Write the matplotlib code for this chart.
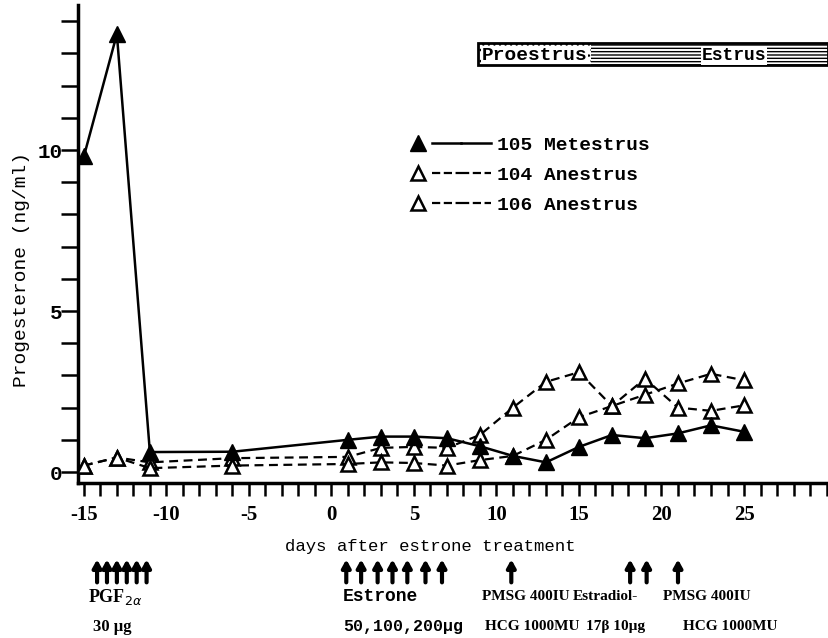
import matplotlib
matplotlib.use('Agg')
import matplotlib.pyplot as plt
from matplotlib.patches import Rectangle
from matplotlib.lines import Line2D
from matplotlib.legend_handler import HandlerTuple

# datos
days = [-15, -13, -11, -6, 1, 3, 5, 7, 9, 11, 13, 15, 17, 19, 21, 23, 25]
prog_105 = [9.8, 13.6, 0.62, 0.63, 1.0, 1.1, 1.1, 1.05, 0.8, 0.5, 0.3, 0.78, 1.15, 1.05, 1.2, 1.45, 1.25]
prog_104 = [0.2, 0.45, 0.3, 0.43, 0.47, 0.75, 0.78, 0.75, 1.15, 2.0, 2.8, 3.1, 2.05, 2.9, 2.0, 1.9, 2.07]
prog_106 = [0.2, 0.45, 0.12, 0.2, 0.25, 0.3, 0.28, 0.2, 0.37, 0.5, 1.0, 1.7, 2.05, 2.4, 2.75, 3.05, 2.85]
series_labels = ['105 Metestrus', '104 Anestrus', '106 Anestrus']

# fases del ciclo (barra superior)
phase_names = ['Proestrus', 'Estrus']
phase_start = [8.9, 15.7]
phase_end = [15.7, 30.1]
phase_hatch = ['...', '-----']

# tratamientos (flechas bajo el eje)
pgf_days = [-14.2, -13.6, -13.0, -12.4, -11.8, -11.2]
estrone_days = [0.9, 1.8, 2.8, 3.7, 4.6, 5.7, 6.7]
pmsg_days = [10.9, 21.0]
estradiol_days = [18.1, 19.1]

row1_text = ['PGF$_{2\\alpha}$', 'Estrone', 'PMSG 400IU', 'Estradiol-', 'PMSG 400IU']
row1_x = [-14.75, 0.7, 9.1, 14.6, 20.1]
row2_text = ['30 µg', '50,100,200µg', 'HCG 1000MU', '17β 10µg', 'HCG 1000MU']
row2_x = [-14.45, 0.7, 9.3, 15.4, 21.3]

mono = 'Liberation Mono'
serif = 'Liberation Serif'
plt.rcParams['axes.unicode_minus'] = False
plt.rcParams['hatch.linewidth'] = 1.0

fig = plt.figure(figsize=(8.29, 6.38), dpi=100)
ax = fig.add_axes([0.094, 0.243, 0.906, 0.749])

dash = (0, (4, 2.5))
l105, = ax.plot(days, prog_105, color='black', lw=1.8, marker='^', ms=12,
                mfc='black', mec='black', zorder=4)
l104, = ax.plot(days, prog_104, color='black', lw=1.6, ls=dash, marker='^', ms=10,
                mfc='white', mec='black', mew=1.8, zorder=3)
l106, = ax.plot(days, prog_106, color='black', lw=1.6, ls=dash, marker='^', ms=10,
                mfc='white', mec='black', mew=1.8, zorder=3)

ax.set_xlim(-15.36, 30.15)
ax.set_ylim(-0.34, 14.5)
ax.set_xticks([-15, -10, -5, 0, 5, 10, 15, 20, 25])
ax.set_xticks(range(-15, 31), minor=True)
ax.set_yticks([0, 5, 10])
ax.set_yticks(range(0, 15), minor=True)

for s in ['top', 'right']:
    ax.spines[s].set_visible(False)
for s in ['left', 'bottom']:
    ax.spines[s].set_linewidth(2.5)

ax.tick_params(axis='x', which='both', direction='out', length=9, width=1.8, pad=7)
ax.tick_params(axis='y', which='both', direction='out', length=12, width=1.8, pad=-1)
for t in ax.get_xticklabels():
    t.set_fontfamily(serif)
    t.set_fontweight('bold')
    t.set_fontsize(15)
for t in ax.get_yticklabels():
    t.set_fontfamily(mono)
    t.set_fontweight('bold')
    t.set_fontsize(15)

ax.set_ylabel('Progesterone (ng/ml)', fontfamily=mono, fontsize=14)
ax.yaxis.set_label_coords(-0.064, 0.446)
ax.set_xlabel('days after estrone treatment', fontfamily=mono, fontsize=12.5)
ax.xaxis.set_label_coords(0.469, -0.118)

# leyenda: triangulo y luego la linea
handles = []
for ln in [l105, l104, l106]:
    mk = Line2D([], [], ls='none', marker='^', ms=ln.get_markersize(),
                mfc=ln.get_markerfacecolor(), mec='black', mew=ln.get_markeredgewidth())
    seg = Line2D([], [], color='black', lw=ln.get_linewidth(), ls=ln.get_linestyle())
    handles.append((mk, seg, seg))
ax.legend(handles, series_labels, handler_map={tuple: HandlerTuple(ndivide=None, pad=0)},
          loc='upper left', bbox_to_anchor=(0.433, 0.726), frameon=False,
          prop={'family': mono, 'weight': 'bold', 'size': 14},
          handlelength=4.5, handletextpad=0.35, labelspacing=0.65,
          borderpad=0, borderaxespad=0)

# barra Proestrus / Estrus
for name, x0, x1, h in zip(phase_names, phase_start, phase_end, phase_hatch):
    ax.add_patch(Rectangle((x0, 12.64), x1 - x0, 0.68, facecolor='white',
                           edgecolor='black', hatch=h, lw=0, clip_on=False, zorder=2))
ax.add_patch(Rectangle((phase_start[0], 12.64), phase_end[-1] - phase_start[0], 0.68,
                       fill=False, edgecolor='black', lw=2, clip_on=False, zorder=3))
ax.text(phase_start[0] + 0.2, 12.94, phase_names[0], fontfamily=mono, fontweight='bold',
        fontsize=14, ha='left', va='center', zorder=5,
        bbox=dict(fc='white', ec='none', pad=0.3))
ax.text((phase_start[1] + phase_end[1]) / 2 + 1.5, 12.94, phase_names[1], fontfamily=mono,
        fontweight='bold', fontsize=13, ha='center', va='center', zorder=5,
        bbox=dict(fc='white', ec='none', pad=0.5))

# flechas de tratamiento
for d in pgf_days + estrone_days + pmsg_days + estradiol_days:
    ax.annotate('', xy=(d, -0.160), xytext=(d, -0.208),
                xycoords=('data', 'axes fraction'), textcoords=('data', 'axes fraction'),
                arrowprops=dict(arrowstyle='-|>,head_length=0.45,head_width=0.25',
                                lw=3, color='black', shrinkA=0, shrinkB=0),
                annotation_clip=False)

for txt, x in zip(row1_text, row1_x):
    fam = mono if txt == 'Estrone' else serif
    size = 13 if txt.startswith(('PGF', 'Estrone')) else 11
    ax.text(x, -0.238, txt, transform=ax.get_xaxis_transform(), fontfamily=fam,
            fontweight='bold', fontsize=size, ha='left', va='center')
for txt, x in zip(row2_text, row2_x):
    fam = mono if txt.startswith('50') else serif
    size = 12 if txt.startswith(('30', '50')) else 11
    ax.text(x, -0.301, txt, transform=ax.get_xaxis_transform(), fontfamily=fam,
            fontweight='bold', fontsize=size, ha='left', va='center')

fig.savefig('out.png', dpi=100)
